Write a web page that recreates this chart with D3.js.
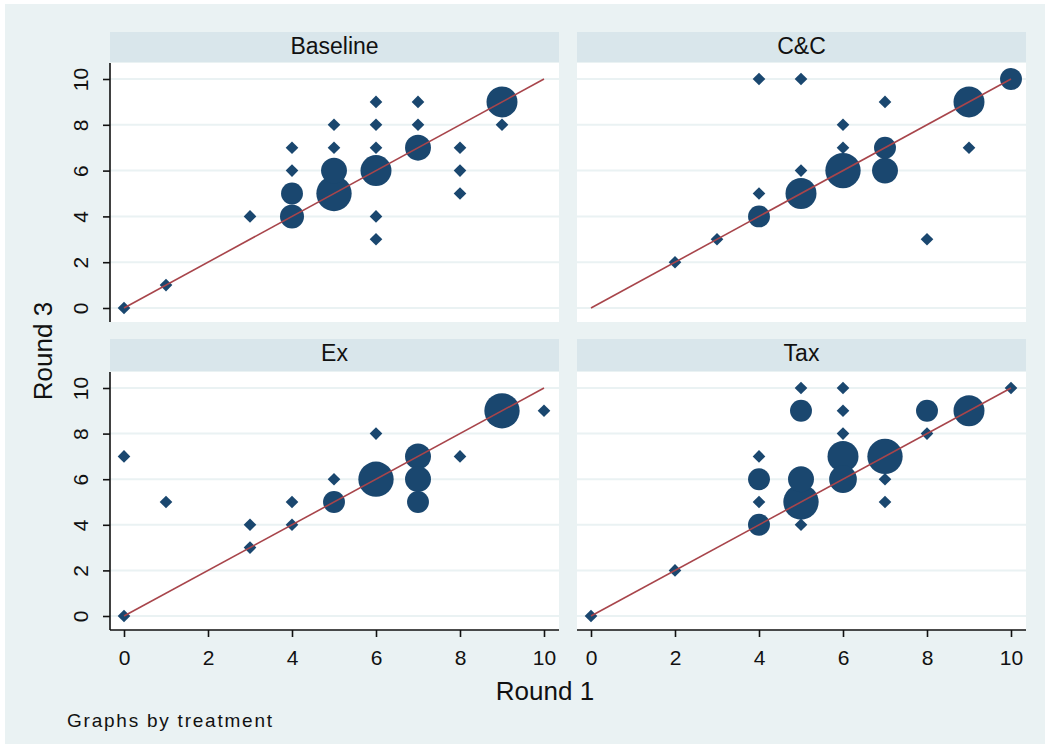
<!DOCTYPE html>
<html>
<head>
<meta charset="utf-8">
<script src="https://cdn.jsdelivr.net/npm/d3@7"></script>
<style>
body{margin:0;background:#fff;}
text{font-family:"Liberation Sans",Arial,sans-serif;fill:#111;}
</style>
</head>
<body>
<div id="chart"></div>
<script>
// [round1, round3, count]
var baseline = [[0,0,1],[1,1,1],[3,4,1],[4,7,1],[4,6,1],[4,5,5],[4,4,6],[5,8,1],[5,7,1],[5,6,7],[5,5,13],
  [6,9,1],[6,8,1],[6,7,1],[6,6,10],[6,4,1],[6,3,1],[7,9,1],[7,8,1],[7,7,7],[8,7,1],[8,6,1],[8,5,1],[9,9,10],[9,8,1]];
var cc = [[2,2,1],[3,3,1],[4,10,1],[4,5,1],[4,4,5],[5,10,1],[5,6,1],[5,5,10],[6,8,1],[6,7,1],[6,6,13],
  [7,9,1],[7,7,5],[7,6,7],[8,3,1],[9,9,10],[9,7,1],[10,10,5]];
var ex = [[0,0,1],[0,7,1],[1,5,1],[3,4,1],[3,3,1],[4,5,1],[4,4,1],[5,6,1],[5,5,5],[6,8,1],[6,6,13],
  [7,7,7],[7,6,7],[7,5,5],[8,7,1],[9,9,13],[10,9,1]];
var tax = [[0,0,1],[2,2,1],[4,7,1],[4,6,5],[4,5,1],[4,4,5],[5,10,1],[5,9,5],[5,6,7],[5,5,13],[5,4,1],
  [6,10,1],[6,9,1],[6,8,1],[6,7,10],[6,6,8],[7,7,13],[7,6,1],[7,5,1],[8,9,5],[8,8,1],[9,9,10],[10,10,1]];
var treatments = ["Baseline","C&C","Ex","Tax"];
var panelData = [baseline, cc, ex, tax];
var ticks = [0,2,4,6,8,10];
var refLine = [[0,0],[10,10]];

var W = 1050, H = 747;
var BG = "#eaf2f3", STRIP = "#d9e6eb", NAVY = "#1a476f", MAROON = "#a8454b";

var svg = d3.select("#chart").append("svg").attr("width",W).attr("height",H);
svg.append("rect").attr("x",5).attr("y",4).attr("width",1040).attr("height",740).attr("fill",BG);

var cols = [[110,559],[577,1026]];
var rows = [{head:32,top:63,bottom:322},{head:339,top:372,bottom:630}];

var r = d3.scaleSqrt().domain([0,13]).range([0,4.9*Math.sqrt(13)]);

panelData.forEach(function(data,i){
    var c = cols[i%2], rw = rows[Math.floor(i/2)];
    var x = d3.scaleLinear().domain([0,10]).range([c[0]+14,c[1]-15]);
    var y = d3.scaleLinear().domain([0,10]).range([rw.bottom-14,rw.top+16]);
    var g = svg.append("g");

    // strip with title
    g.append("rect").attr("x",c[0]).attr("y",rw.head).attr("width",c[1]-c[0]).attr("height",rw.top-rw.head-1).attr("fill",STRIP);
    g.append("text").attr("x",(c[0]+c[1])/2).attr("y",rw.head+22).attr("text-anchor","middle")
        .style("font-size","23px").text(treatments[i]);

    // plot region
    g.append("rect").attr("x",c[0]).attr("y",rw.top).attr("width",c[1]-c[0]).attr("height",rw.bottom-rw.top).attr("fill","#fff");
    g.selectAll("line.grid").data(ticks).enter().append("line").attr("class","grid")
        .attr("x1",c[0]).attr("x2",c[1]).attr("y1",function(d){return y(d);}).attr("y2",function(d){return y(d);})
        .attr("stroke",BG).attr("stroke-width",2);

    // markers, bigger first; singles are diamonds
    var pts = data.slice().sort(function(a,b){return b[2]-a[2];});
    g.selectAll("path.pt").data(pts).enter().append("path").attr("class","pt")
        .attr("transform",function(d){
            return "translate("+x(d[0])+","+y(d[1])+")"+(d[2]==1?" rotate(45)":"");
        })
        .attr("d",function(d){
            if(d[2]==1) return d3.symbol().type(d3.symbolSquare).size(80)();
            var rr = r(d[2]);
            return d3.symbol().type(d3.symbolCircle).size(Math.PI*rr*rr)();
        })
        .attr("fill",NAVY);

    // 45 degree line
    g.append("path").datum(refLine)
        .attr("d",d3.line().x(function(d){return x(d[0]);}).y(function(d){return y(d[1]);}))
        .attr("stroke",MAROON).attr("stroke-width",1.6).attr("fill","none");

    // y axis on left column
    if(i%2==0){
        var ya = g.append("g").attr("transform","translate("+c[0]+",0)")
            .call(d3.axisLeft(y).tickValues(ticks).tickSize(7).tickSizeOuter(0));
        ya.select(".domain").attr("d","M0,"+rw.top+"V"+rw.bottom).attr("stroke","#111").attr("stroke-width",1.6);
        ya.selectAll(".tick line").attr("stroke","#111").attr("stroke-width",1.6);
        ya.selectAll(".tick text").attr("x",null).attr("dy",null)
            .attr("transform","translate(-22,0) rotate(-90)")
            .attr("text-anchor","middle").attr("y",0)
            .style("font-size","21px").style("font-family",'"Liberation Sans",Arial,sans-serif').attr("fill","#111");
    }
    // x axis on bottom row
    if(i>=2){
        var xa = g.append("g").attr("transform","translate(0,"+rw.bottom+")")
            .call(d3.axisBottom(x).tickValues(ticks).tickSize(7).tickSizeOuter(0));
        xa.select(".domain").attr("d","M"+c[0]+",0H"+c[1]).attr("stroke","#111").attr("stroke-width",1.6);
        xa.selectAll(".tick line").attr("stroke","#111").attr("stroke-width",1.6);
        xa.selectAll(".tick text").attr("y",35).attr("dy",null)
            .style("font-size","21px").style("font-family",'"Liberation Sans",Arial,sans-serif').attr("fill","#111");
    }
});

svg.append("text").attr("x",545).attr("y",700).attr("text-anchor","middle")
    .style("font-size","26px").text("Round 1");
svg.append("text").attr("transform","translate(52,351) rotate(-90)").attr("text-anchor","middle")
    .style("font-size","26px").text("Round 3");
svg.append("text").attr("x",67).attr("y",727).attr("textLength",205)
    .style("font-size","19px").text("Graphs by treatment");
</script>
</body>
</html>
